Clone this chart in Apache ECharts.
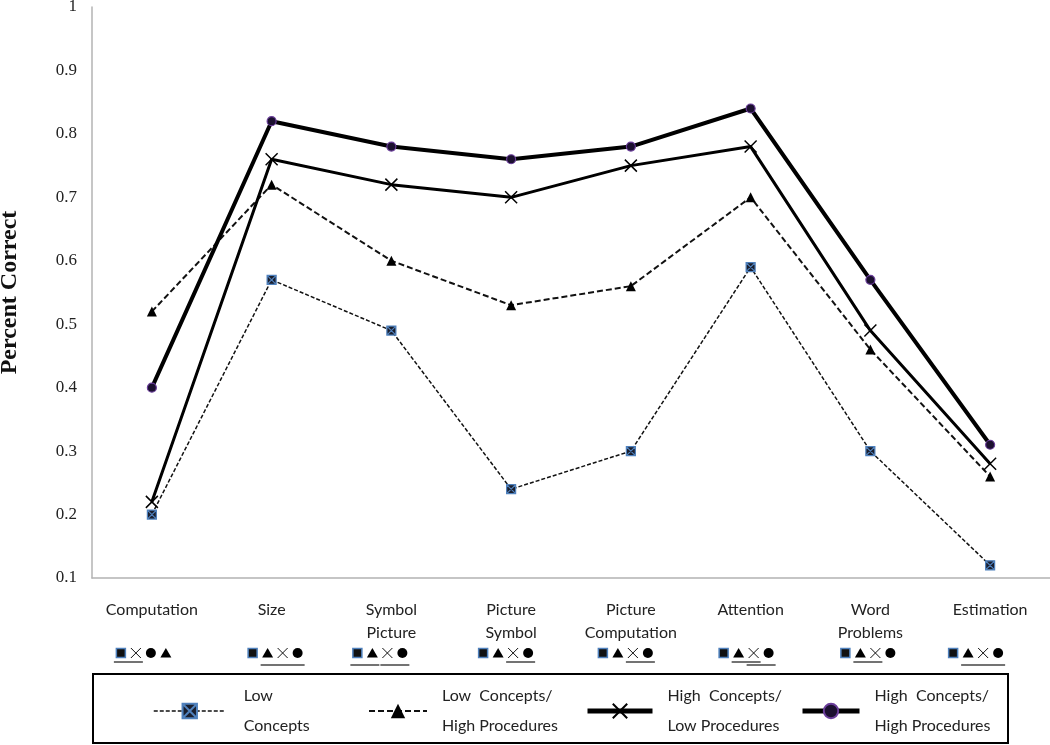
<!DOCTYPE html>
<html>
<head>
    <meta charset="UTF-8">
    <title>Percent Correct by profile</title>
    <script src="https://cdn.jsdelivr.net/npm/echarts@6/dist/echarts.min.js"></script>
    <style>
        body {
            margin: 0;
            background-color: #fff;
        }

        #main {
            width: 1050px;
            height: 745px;
        }
    </style>
</head>
<body>
<div id="main"></div>

<script>
    // categories (x axis)
    var categories = ['Computation', 'Size', 'Symbol\nPicture', 'Picture\nSymbol',
        'Picture\nComputation', 'Attention', 'Word\nProblems', 'Estimation'];

    // series values
    var lowConcepts = [0.20, 0.57, 0.49, 0.24, 0.30, 0.59, 0.30, 0.12];
    var lowConHighProc = [0.52, 0.72, 0.60, 0.53, 0.56, 0.70, 0.46, 0.26];
    var highConLowProc = [0.22, 0.76, 0.72, 0.70, 0.75, 0.78, 0.49, 0.28];
    var highConHighProc = [0.40, 0.82, 0.78, 0.76, 0.78, 0.84, 0.57, 0.31];

    var seriesNames = ['Low Concepts', 'Low Concepts/High Procedures',
        'High Concepts/Low Procedures', 'High Concepts/High Procedures'];
    var legendLabels = ['Low\nConcepts', 'Low  Concepts/\nHigh Procedures',
        'High  Concepts/\nLow Procedures', 'High  Concepts/\nHigh Procedures'];

    // y axis ticks
    var yMin = 0.1, yMax = 1, yStep = 0.1;

    // symbol rows under each category: order of markers and underlined groups [from, to, level]
    var rowOrder = [
        ['sq', 'x', 'ci', 'tri'],
        ['sq', 'tri', 'x', 'ci'],
        ['sq', 'tri', 'x', 'ci'],
        ['sq', 'tri', 'x', 'ci'],
        ['sq', 'tri', 'x', 'ci'],
        ['sq', 'tri', 'x', 'ci'],
        ['sq', 'tri', 'x', 'ci'],
        ['sq', 'tri', 'x', 'ci']
    ];
    var rowUnderlines = [
        [[0, 1, 0]],
        [[1, 3, 1]],
        [[0, 1, 1], [2, 3, 1]],
        [[2, 3, 0]],
        [[2, 3, 0]],
        [[1, 2, 0], [2, 3, 1]],
        [[1, 2, 0]],
        [[1, 3, 1]]
    ];
    var rowStart = [-31, -19, -34, -28, -28, -27, -25, -37];

    var sqSymbol = 'path://M0,0L10,0L10,10L0,10Z M0,0L10,10 M10,0L0,10';
    var xSymbol = 'path://M0,0L10,10 M10,0L0,10';

    var chart = echarts.init(document.getElementById('main'), null, {renderer: 'canvas'});

    var legendPos = [
        {left: 153, w: 72, pad: 13, lw: 1.5},
        {left: 368, w: 58, pad: 10, lw: 2},
        {left: 585, w: 65, pad: 10, lw: 5},
        {left: 800, w: 57, pad: 10, lw: 5}
    ];

    var option = {
        animation: false,
        grid: {left: 92, right: 0, top: 7, bottom: 167, containLabel: false, outerBoundsMode: 'none'},
        legend: legendPos.map(function (p, i) {
            return {
                data: [seriesNames[i]],
                left: p.left,
                top: 681,
                padding: 0,
                itemWidth: p.w,
                itemHeight: 18,
                selectedMode: false,
                lineStyle: {width: p.lw},
                formatter: function () {
                    return legendLabels[i];
                },
                textStyle: {
                    fontFamily: 'Lato', fontSize: 16, lineHeight: 30, color: '#222',
                    padding: [0, 0, 0, p.pad]
                }
            };
        }),
        xAxis: {
            type: 'category',
            data: categories,
            axisLine: {lineStyle: {color: '#b3b3b3', width: 1.5}},
            axisTick: {show: false},
            axisLabel: {
                interval: 0, margin: 20,
                fontFamily: 'Lato', fontSize: 16, lineHeight: 23, color: '#222'
            }
        },
        yAxis: {
            type: 'value',
            min: yMin, max: yMax, interval: yStep,
            name: 'Percent Correct',
            nameLocation: 'middle',
            nameGap: 70,
            nameTextStyle: {
                fontFamily: 'Liberation Serif', fontWeight: 'bold', fontSize: 24, color: '#111'
            },
            axisLine: {show: true, lineStyle: {color: '#b3b3b3', width: 1.5}},
            axisTick: {show: false},
            splitLine: {show: false},
            axisLabel: {
                margin: 15,
                fontFamily: 'Liberation Serif', fontSize: 17, color: '#222',
                formatter: function (v) {
                    return String(Math.round(v * 10) / 10);
                }
            }
        },
        series: [
            {
                name: seriesNames[0], type: 'line', data: lowConcepts,
                symbol: sqSymbol, symbolSize: 9,
                lineStyle: {color: '#111', width: 1.5, type: [4, 2]},
                itemStyle: {color: '#1a1f2e', borderColor: '#4f81bd', borderWidth: 1.2},
                z: 2
            },
            {
                name: seriesNames[1], type: 'line', data: lowConHighProc,
                symbol: 'triangle', symbolSize: 10,
                lineStyle: {color: '#111', width: 2, type: [6, 3]},
                itemStyle: {color: '#000'},
                z: 3
            },
            {
                name: seriesNames[2], type: 'line', data: highConLowProc,
                symbol: xSymbol, symbolSize: 12,
                lineStyle: {color: '#000', width: 3},
                itemStyle: {color: 'rgba(0,0,0,0)', borderColor: '#000', borderWidth: 1.5},
                z: 4
            },
            {
                name: seriesNames[3], type: 'line', data: highConHighProc,
                symbol: 'circle', symbolSize: 9,
                lineStyle: {color: '#000', width: 4},
                itemStyle: {color: '#1c1030', borderColor: '#6a3d9a', borderWidth: 1.2},
                z: 5
            }
        ]
    };

    chart.setOption(option);

    // small marker used in the rows of symbols under the categories
    function mark(kind, x, y) {
        if (kind === 'sq') {
            return [{type: 'rect', shape: {x: x - 4.5, y: y - 4.5, width: 9, height: 9},
                style: {fill: '#111', stroke: '#4f81bd', lineWidth: 1.5}}];
        }
        if (kind === 'tri') {
            return [{type: 'polygon', shape: {points: [[x, y - 5], [x + 5.5, y + 4.5], [x - 5.5, y + 4.5]]},
                style: {fill: '#000'}}];
        }
        if (kind === 'ci') {
            return [{type: 'circle', shape: {cx: x, cy: y, r: 5}, style: {fill: '#000'}}];
        }
        return [
            {type: 'line', shape: {x1: x - 5, y1: y - 5, x2: x + 5, y2: y + 5}, style: {stroke: '#111', lineWidth: 1}},
            {type: 'line', shape: {x1: x + 5, y1: y - 5, x2: x - 5, y2: y + 5}, style: {stroke: '#111', lineWidth: 1}}
        ];
    }

    var graphics = [];
    categories.forEach(function (c, i) {
        var cx = chart.convertToPixel({xAxisIndex: 0}, i);
        var xs = rowOrder[i].map(function (s, k) {
            return cx + rowStart[i] + k * 15;
        });
        rowOrder[i].forEach(function (s, k) {
            graphics = graphics.concat(mark(s, xs[k], 653));
        });
        rowUnderlines[i].forEach(function (u) {
            var y = 662 + u[2] * 3;
            graphics.push({
                type: 'line', shape: {x1: xs[u[0]] - 7, y1: y, x2: xs[u[1]] + 7, y2: y},
                style: {stroke: '#444', lineWidth: 1.5}
            });
        });
    });

    // legend frame
    graphics.push({
        type: 'rect', shape: {x: 93, y: 674, width: 915, height: 69},
        style: {fill: 'none', stroke: '#000', lineWidth: 2}, z: -1
    });

    chart.setOption({graphic: graphics});
</script>
</body>
</html>
